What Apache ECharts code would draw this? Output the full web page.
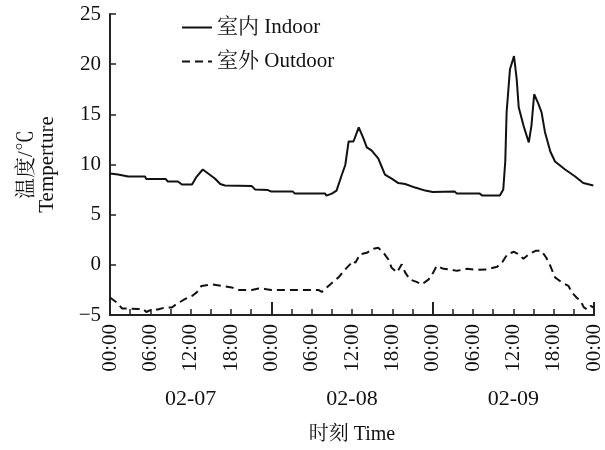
<!DOCTYPE html>
<html><head><meta charset="utf-8">
<script src="https://cdn.jsdelivr.net/npm/echarts@6/dist/echarts.min.js"></script>
<style>html,body{margin:0;padding:0;background:#fff}#c{width:605px;height:450px}</style>
</head><body><div id="c"></div>
<script>
// hours since 02-07 00:00
var indoorHours = [0,1.2,2.7,5.2,5.4,8.3,8.6,10.1,10.7,12.2,12.9,13.8,14.6,15.6,16.4,17.1,21.1,21.6,23.5,24,27.2,27.5,32,32.2,33,33.7,34.5,35,35.5,36.2,36.4,37,37.7,38.2,38.9,39.9,40.4,40.9,41.9,42.9,43.9,45.4,46.9,48,51.3,51.6,55,55.4,58,58.5,58.8,59,59.5,60.1,60.5,60.8,61.5,62.3,62.7,63.1,63.7,64.2,64.7,65.5,66.2,67.7,69.2,70.4,71.9];
var indoorTemps = [9.1,9.0,8.8,8.8,8.55,8.55,8.3,8.3,8.0,8.0,8.8,9.5,9.1,8.6,8.05,7.9,7.85,7.5,7.45,7.3,7.3,7.1,7.1,6.9,7.1,7.4,9.0,9.95,12.3,12.3,12.6,13.7,12.6,11.7,11.4,10.6,9.8,9.0,8.6,8.15,8.05,7.7,7.4,7.25,7.3,7.1,7.1,6.9,6.9,7.5,10.3,15.2,19.5,20.8,18.5,15.7,13.9,12.2,13.9,17.0,16.1,15.2,13.25,11.3,10.3,9.5,8.8,8.15,7.9];
var outdoorHours = [0,1,1.8,2.7,4.2,4.9,5.4,6.2,7.1,8.2,9.2,9.9,11.2,12.2,12.9,13.6,15.1,16.6,18.1,19,21.1,22.1,23,24,31,31.5,32.5,34,35,36.2,36.5,37.2,38.2,39.2,39.9,40.7,41.4,41.9,42.7,43.4,43.9,44.6,45.6,46.4,47.4,48.1,48.6,49.6,50.6,51.6,53.1,54.6,56.1,57.6,58.4,59.1,60.1,60.8,61.5,62.3,63.3,64.2,64.9,65.5,66.2,67.2,68.2,68.7,69.4,70,70.5,71,71.5,71.9];
var outdoorTemps = [-3.25,-3.75,-4.35,-4.35,-4.4,-4.4,-4.7,-4.45,-4.45,-4.25,-4.25,-3.9,-3.4,-3.1,-2.75,-2.1,-1.95,-2.1,-2.25,-2.5,-2.5,-2.35,-2.4,-2.5,-2.5,-2.7,-2.1,-1.25,-0.45,0.4,0.2,1.05,1.2,1.6,1.7,1.2,0.55,-0.3,-0.75,0.05,-0.75,-1.45,-1.7,-1.95,-1.45,-0.75,-0.1,-0.4,-0.45,-0.6,-0.4,-0.5,-0.45,-0.2,0.3,1.05,1.3,1.05,0.6,1.05,1.4,1.4,0.7,-0.1,-1.25,-1.75,-2.1,-2.75,-3.25,-3.6,-4.25,-4.45,-4.1,-4.25];
var dayLabels = {12:'02-07', 36:'02-08', 60:'02-09'};
var yTicks = [-5,0,5,10,15,20,25];

function zip(a,b){return a.map(function(v,i){return [v,b[i]];});}
var FONT = "'Liberation Serif','Noto Serif CJK SC','Noto Sans CJK SC',serif";
var chart = echarts.init(document.getElementById('c'));
var grid = {left:110, right:11, top:14, bottom:134};
chart.setOption({
  animation:false,
  textStyle:{fontFamily:FONT,color:'#111'},
  grid:grid,
  legend:{
    orient:'vertical', left:176, top:12, itemGap:13, itemWidth:30, itemHeight:20,
    itemStyle:{opacity:0},
    textStyle:{fontFamily:FONT,fontSize:21,color:'#111'},
    data:['室内 Indoor','室外 Outdoor']
  },
  xAxis:[{
    type:'value', min:0, max:72, interval:6,
    axisLine:{onZero:false,lineStyle:{color:'#222',width:2}},
    axisTick:{inside:true,length:6,lineStyle:{color:'#222',width:1.5}},
    minorTick:{show:true,splitNumber:2,length:6,lineStyle:{color:'#222',width:1.5}},
    splitLine:{show:false},
    axisLabel:{rotate:90,fontSize:21,color:'#111',fontFamily:FONT,margin:9,
      formatter:function(v){var h=v%24;return (h<10?'0':'')+h+':00';}},
    name:'时刻 Time', nameLocation:'middle', nameGap:110,
    nameTextStyle:{fontSize:20,color:'#111',fontFamily:FONT}
  },{
    type:'value', min:0, max:72, interval:24, position:'bottom', offset:0,
    axisLine:{show:true,onZero:false,lineStyle:{color:'#222',width:2,opacity:1}},
    axisTick:{show:true,inside:true,length:13,lineStyle:{color:'#222',width:2}},
    axisLabel:{show:false}, splitLine:{show:false}
  },{
    type:'value', min:0, max:72, interval:12, position:'bottom',
    axisLine:{show:false,onZero:false}, axisTick:{show:false}, splitLine:{show:false},
    axisLabel:{fontSize:22,color:'#111',fontFamily:FONT,margin:73,
      formatter:function(v){return dayLabels[v]||'';}}
  }],
  yAxis:{
    type:'value', min:-5, max:25, interval:5,
    axisLine:{show:true,lineStyle:{color:'#222',width:2}},
    axisTick:{show:true,inside:true,length:6,lineStyle:{color:'#222',width:1.5}},
    splitLine:{show:false},
    axisLabel:{fontSize:21,color:'#111',fontFamily:FONT,margin:9,
      formatter:function(v){return v<0?'\u2212'+(-v):String(v);}},
    name:'温度/℃\nTemperture', nameLocation:'middle', nameRotate:90, nameGap:52,
    nameTextStyle:{fontSize:21,color:'#111',fontFamily:FONT,lineHeight:21}
  },
  series:[{
    name:'室内 Indoor', type:'line', xAxisIndex:0, data:zip(indoorHours,indoorTemps),
    showSymbol:false, symbol:'none', lineStyle:{color:'#111',width:2}, itemStyle:{color:'#111'}
  },{
    name:'室外 Outdoor', type:'line', xAxisIndex:0, data:zip(outdoorHours,outdoorTemps),
    showSymbol:false, symbol:'none', lineStyle:{color:'#111',width:2,type:[8,5]}, itemStyle:{color:'#111'}
  }]
});
</script></body></html>
